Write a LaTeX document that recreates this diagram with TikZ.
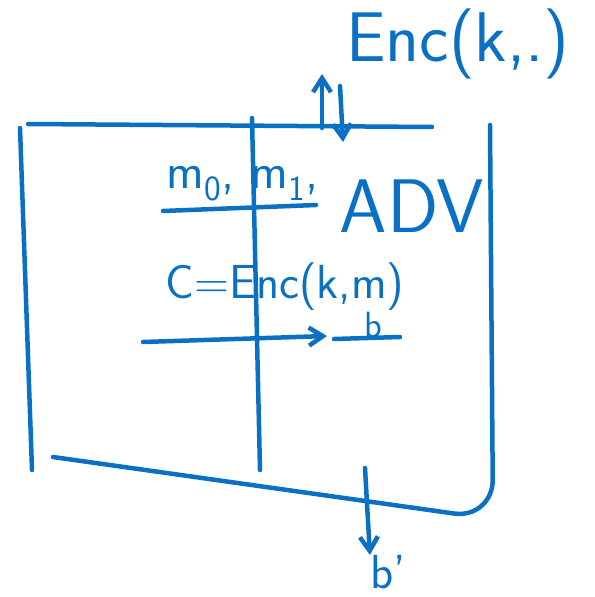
\documentclass[tikz,border=0pt]{standalone}
\usepackage{tikz}
\usetikzlibrary{arrows.meta,positioning,calc}
\definecolor{pen}{RGB}{10,112,196}
\tikzset{
  ink/.style={draw=pen,line width=3.2pt,line cap=round,line join=round},
  arr/.style={ink,-{Straight Barb[length=3.5mm,width=4.5mm]}},
  lbl/.style={text=pen,font=\sffamily,inner sep=0pt},
}
\begin{document}
\begin{tikzpicture}[x=0.025cm,y=-0.025cm]
\useasboundingbox (0,0) rectangle (594,597);
% challenger frame
\coordinate (topL) at (28,124);
\coordinate (topR) at (432,127);
\coordinate (leftT) at (20,128);
\coordinate (leftB) at (32,470);
\coordinate (midT) at (252,118);
\coordinate (midB) at (260,470);
\coordinate (rightT) at (490,125);
\coordinate (corner) at (493,519);
\coordinate (botL) at (53,457);
\draw[ink] (topL) -- (topR);
\draw[ink] (leftT) -- (leftB);
\draw[ink] (midT) -- (midB);
\draw[ink,rounded corners=28pt] (rightT) -- (corner) -- (botL);
% labels
\node[lbl,font=\sffamily\fontsize{50}{54}\selectfont] (enc) at (458,44) {Enc(k,.)};
\node[lbl,font=\sffamily\fontsize{54}{58}\selectfont] (adv) at (412,206) {ADV};
\node[lbl,font=\sffamily\fontsize{36}{40}\selectfont] (msgs) at (243,184) {m\textsubscript{0}, m\textsubscript{1},};
\node[lbl,font=\sffamily\fontsize{34}{38}\selectfont] (ct) at (285,287) {C=Enc(k,m)};
\node[lbl,font=\sffamily\fontsize{26}{30}\selectfont] (sub) at (373,325) {b};
\node[lbl,font=\sffamily\fontsize{34}{38}\selectfont] (guess) at (388,572) {b'};
% oracle queries
\coordinate (qS) at (322,128);
\coordinate (qE) at (322,74);
\coordinate (aS) at (340,86);
\coordinate (aE) at (343,142);
\draw[arr] (qS) -- (qE);
\draw[arr] (aS) -- (aE);
% messages and challenge
\coordinate (mL) at (163,211);
\coordinate (mR) at (316,205);
\draw[ink] (mL) -- (mR);
\coordinate (cS) at (143,342);
\coordinate (cE) at (327,336);
\draw[arr] (cS) -- (cE);
\coordinate (bL) at (334,339);
\coordinate (bR) at (400,337);
\draw[ink] (bL) -- (bR);
% output
\coordinate (oS) at (365,468);
\draw[arr] (oS) -- (guess.north west);
\end{tikzpicture}
\end{document}
